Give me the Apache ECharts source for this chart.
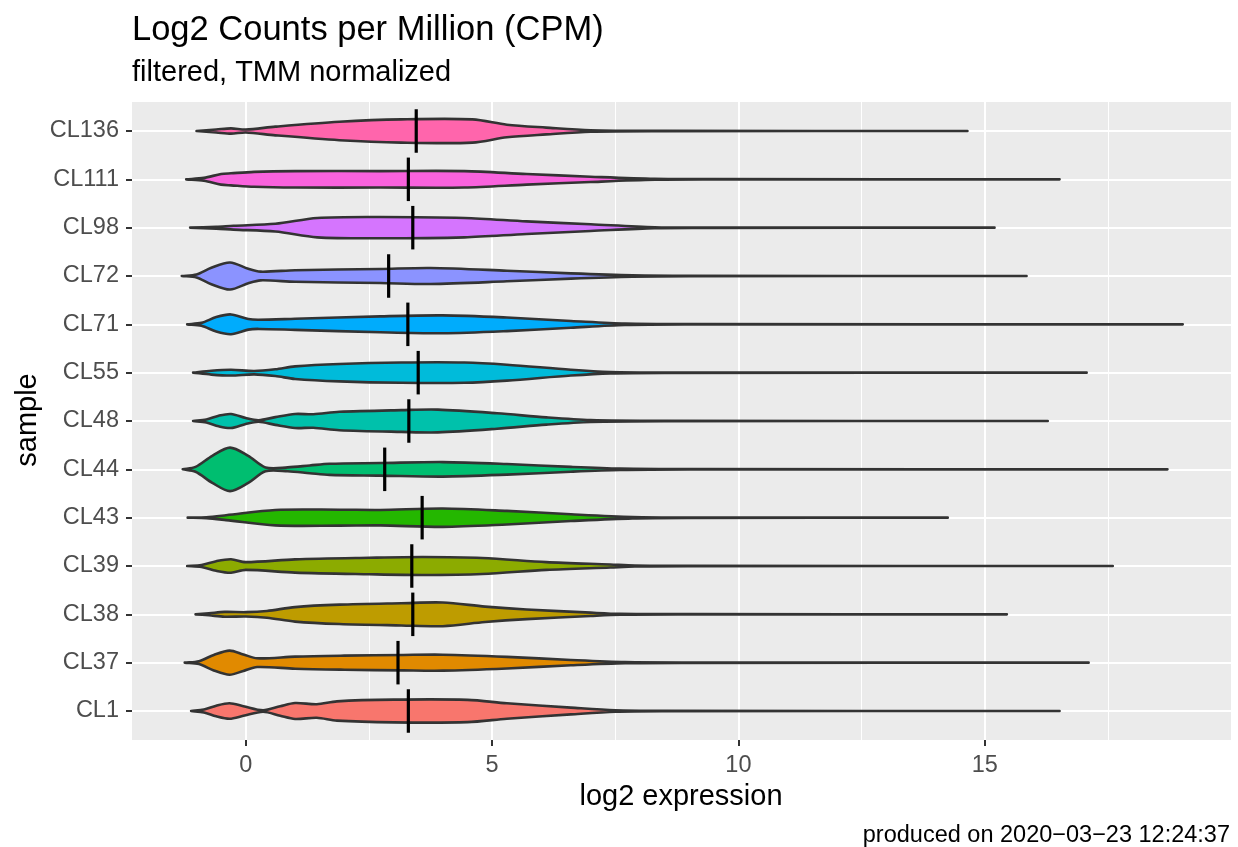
<!DOCTYPE html>
<html>
<head>
<meta charset="utf-8">
<script src="https://cdn.jsdelivr.net/npm/echarts@6/dist/echarts.min.js"></script>
<style>
  html, body { margin: 0; padding: 0; background: #fff; }
  #chart { width: 1238px; height: 847px; }
</style>
</head>
<body>
<div id="chart"></div>
<script>
// samples, bottom to top
const samples = ['CL1', 'CL37', 'CL38', 'CL39', 'CL43', 'CL44', 'CL48', 'CL55', 'CL71', 'CL72', 'CL98', 'CL111', 'CL136'];
const colors = ['#F8766D', '#E18A00', '#BE9C00', '#8CAB00', '#24B700', '#00BE70', '#00C1AB',
  '#00BBDA', '#00ACFC', '#8B93FF', '#D575FE', '#F962DD', '#FF65AC'];
const medians = [3.3, 3.09, 3.39, 3.37, 3.58, 2.82, 3.31, 3.5, 3.29, 2.9, 3.39, 3.3, 3.46];
const xTicks = [0, 5, 10, 15];
const xMinorTicks = [2.5, 7.5, 12.5, 17.5];

// violin outlines: [log2 expression, half width in category units]
const cl1 = [[-1.11, 0], [-0.85, 0.03], [-0.6, 0.11], [-0.33, 0.16], [-0.05, 0.1], [0.35, 0.015], [0.7, 0.1], [1.0, 0.165], [1.44, 0.14], [1.85, 0.2], [3.0, 0.235], [4.5, 0.23], [5.3, 0.16], [6.6, 0.07], [7.5, 0.015], [8.5, 0.004], [16.52, 0]];
const cl37 = [[-1.24, 0], [-0.95, 0.03], [-0.65, 0.16], [-0.33, 0.25], [-0.05, 0.17], [0.23, 0.09], [1.0, 0.125], [2.0, 0.145], [3.2, 0.16], [4.0, 0.165], [5.3, 0.12], [6.6, 0.055], [7.7, 0.012], [9.0, 0.004], [17.11, 0]];
const cl38 = [[-1.02, 0], [-0.75, 0.02], [-0.43, 0.05], [0.0, 0.045], [0.43, 0.07], [1.0, 0.15], [1.9, 0.2], [3.16, 0.23], [4.0, 0.245], [4.86, 0.16], [5.7, 0.1], [7.0, 0.035], [7.6, 0.01], [9.0, 0.004], [15.45, 0]];
const cl39 = [[-1.19, 0], [-0.9, 0.02], [-0.6, 0.1], [-0.3, 0.14], [0.0, 0.08], [1.0, 0.137], [2.5, 0.17], [3.6, 0.185], [4.8, 0.165], [6.1, 0.08], [7.4, 0.03], [7.9, 0.01], [9.0, 0.004], [17.6, 0]];
const cl43 = [[-1.18, 0], [-0.8, 0.01], [-0.4, 0.05], [0.6, 0.16], [1.9, 0.165], [2.73, 0.16], [4.0, 0.19], [5.3, 0.14], [6.6, 0.07], [7.85, 0.015], [9.0, 0.004], [14.25, 0]];
const cl44 = [[-1.28, 0], [-1.02, 0.05], [-0.68, 0.28], [-0.32, 0.45], [0.05, 0.28], [0.4, 0.04], [0.85, 0.04], [1.3, 0.08], [1.7, 0.115], [2.73, 0.13], [4.0, 0.15], [5.3, 0.11], [6.6, 0.05], [7.6, 0.015], [9.0, 0.004], [18.71, 0]];
const cl48 = [[-1.07, 0], [-0.8, 0.03], [-0.55, 0.11], [-0.3, 0.145], [0.0, 0.06], [0.26, 0.015], [0.6, 0.08], [1.0, 0.145], [1.37, 0.14], [1.9, 0.19], [3.16, 0.225], [3.9, 0.235], [5.1, 0.16], [6.1, 0.075], [7.0, 0.02], [8.5, 0.004], [16.28, 0]];
const cl55 = [[-1.07, 0], [-0.7, 0.04], [-0.3, 0.06], [0.17, 0.035], [0.6, 0.07], [1.0, 0.13], [1.9, 0.18], [3.16, 0.21], [4.44, 0.21], [5.3, 0.165], [6.6, 0.06], [7.4, 0.015], [8.5, 0.004], [17.07, 0]];
const cl71 = [[-1.19, 0], [-0.9, 0.03], [-0.6, 0.15], [-0.3, 0.205], [0.05, 0.11], [0.26, 0.095], [1.0, 0.115], [2.73, 0.165], [4.0, 0.185], [5.3, 0.14], [6.6, 0.07], [7.7, 0.015], [9.0, 0.004], [19.02, 0]];
const cl72 = [[-1.3, 0], [-1.0, 0.03], [-0.7, 0.17], [-0.32, 0.28], [0.05, 0.15], [0.3, 0.09], [1.0, 0.12], [2.73, 0.145], [3.75, 0.165], [5.3, 0.11], [6.6, 0.055], [7.85, 0.015], [9.0, 0.004], [15.85, 0]];
const cl98 = [[-1.13, 0], [-0.6, 0.02], [-0.25, 0.04], [0.6, 0.08], [1.45, 0.2], [2.73, 0.22], [4.44, 0.2], [5.7, 0.13], [7.0, 0.07], [8.3, 0.01], [9.5, 0.004], [15.2, 0]];
const cl111 = [[-1.21, 0], [-0.85, 0.03], [-0.5, 0.11], [-0.3, 0.125], [0.17, 0.155], [1.0, 0.17], [2.73, 0.17], [4.44, 0.17], [5.7, 0.11], [7.0, 0.055], [8.3, 0.01], [9.5, 0.004], [16.52, 0]];
const cl136 = [[-1.0, 0], [-0.6, 0.03], [-0.3, 0.055], [0.0, 0.03], [0.6, 0.09], [1.9, 0.19], [3.16, 0.24], [4.6, 0.24], [5.3, 0.13], [6.1, 0.07], [7.0, 0.015], [8.5, 0.004], [14.65, 0]];
const profiles = [cl1, cl37, cl38, cl39, cl43, cl44, cl48, cl55, cl71, cl72, cl98, cl111, cl136];

const FONT = '"Liberation Sans", Arial, Helvetica, sans-serif';

function renderViolin(params, api) {
  const i = params.dataIndex;
  const prof = profiles[i];
  const upper = prof.map(p => api.coord([p[0], i + p[1]]));
  const lower = prof.slice().reverse().map(p => api.coord([p[0], i - p[1]]));
  const m0 = api.coord([medians[i], i - 0.45]);
  const m1 = api.coord([medians[i], i + 0.45]);
  return {
    type: 'group',
    children: [
      {
        type: 'polygon',
        shape: { points: upper.concat(lower), smooth: 0.3 },
        style: { fill: colors[i], stroke: '#333333', lineWidth: 2.6, lineJoin: 'round' }
      },
      {
        type: 'line',
        shape: { x1: m0[0], y1: m0[1], x2: m1[0], y2: m1[1] },
        style: { stroke: '#000000', lineWidth: 3.2 }
      }
    ]
  };
}

const chart = echarts.init(document.getElementById('chart'));
chart.setOption({
  animation: false,
  backgroundColor: '#ffffff',
  grid: {
    left: 132, right: 7, top: 102, bottom: 107,
    show: true, backgroundColor: '#EBEBEB', borderWidth: 0
  },
  graphic: [
    { type: 'text', left: 132, top: 13, style: { text: 'Log2 Counts per Million (CPM)', font: '34.5px ' + FONT, fill: '#000' } },
    { type: 'text', left: 132, top: 58, style: { text: 'filtered, TMM normalized', font: '29px ' + FONT, fill: '#000' } },
    { type: 'text', x: 681, y: 797, style: { text: 'log2 expression', font: '29px ' + FONT, fill: '#000', align: 'center', verticalAlign: 'middle' } },
    { type: 'text', x: 28, y: 420, rotation: Math.PI / 2, style: { text: 'sample', font: '29px ' + FONT, fill: '#000', align: 'center', verticalAlign: 'middle' } },
    { type: 'text', x: 1230, y: 836, style: { text: 'produced on 2020\u221203\u221223 12:24:37', font: '23.5px ' + FONT, fill: '#000', align: 'right', verticalAlign: 'middle' } }
  ],
  xAxis: [
    {
      type: 'value', min: -2.31, max: 20.0,
      axisLine: { show: false, onZero: false },
      axisTick: { show: true, customValues: xTicks, length: 6, lineStyle: { color: '#333333', width: 2 } },
      axisLabel: { customValues: xTicks, color: '#4D4D4D', fontSize: 23.5, fontFamily: FONT, margin: 14 },
      splitLine: { show: true, lineStyle: { color: '#ffffff', width: 2 } }
    },
    {
      type: 'value', min: -2.31, max: 20.0, position: 'bottom',
      axisLine: { show: false, onZero: false },
      axisTick: { show: false, customValues: xMinorTicks },
      axisLabel: { show: false, customValues: xMinorTicks },
      splitLine: { show: true, lineStyle: { color: '#ffffff', width: 1 } }
    }
  ],
  yAxis: {
    type: 'value', min: -0.6, max: 12.6,
    axisLine: { show: false, onZero: false },
    axisTick: { show: true, customValues: samples.map((s, i) => i), length: 6, lineStyle: { color: '#333333', width: 2 } },
    axisLabel: {
      customValues: samples.map((s, i) => i),
      formatter: v => samples[Math.round(v)],
      color: '#4D4D4D', fontSize: 23.5, fontFamily: FONT, margin: 13,
      padding: [4, 0, 0, 0]
    },
    splitLine: { show: true, lineStyle: { color: '#ffffff', width: 2 } }
  },
  series: [
    {
      type: 'custom',
      renderItem: renderViolin,
      encode: { x: 0, y: 1 },
      data: samples.map((s, i) => [medians[i], i]),
      z: 10
    }
  ]
});
</script>
</body>
</html>
